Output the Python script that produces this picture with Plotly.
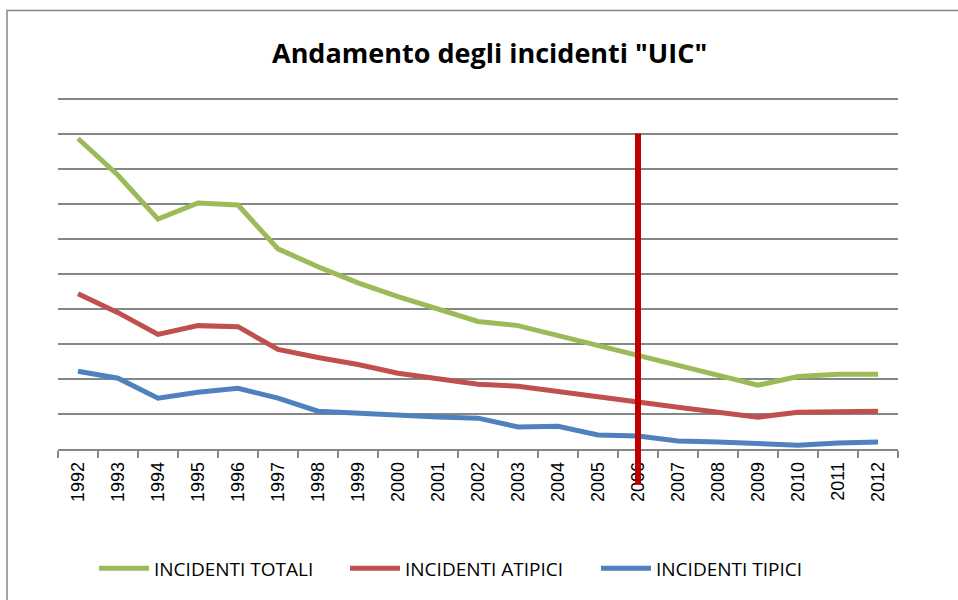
import plotly.graph_objects as go

years = [str(y) for y in range(1992, 2013)]
totali = [8.86, 7.81, 6.56, 7.02, 6.96, 5.71, 5.20, 4.74, 4.35, 4.00, 3.64, 3.52,
          3.24, 2.95, 2.67, 2.39, 2.10, 1.82, 2.07, 2.13, 2.13]
atipici = [4.43, 3.89, 3.27, 3.52, 3.49, 2.84, 2.61, 2.41, 2.16, 1.99, 1.85, 1.79,
           1.65, 1.48, 1.34, 1.19, 1.05, 0.91, 1.05, 1.08, 1.08]
tipici = [2.22, 2.02, 1.45, 1.62, 1.73, 1.45, 1.08, 1.02, 0.97, 0.91, 0.88, 0.63,
          0.65, 0.40, 0.37, 0.23, 0.20, 0.14, 0.11, 0.17, 0.20]
marker_year = "2006"
marker_range = [9.0, -1.02]
y_max = 10.3

fig = go.Figure()
series = [("INCIDENTI TOTALI", totali, "#9BBB59"),
          ("INCIDENTI ATIPICI", atipici, "#C0504D"),
          ("INCIDENTI TIPICI", tipici, "#4F81BD")]
for name, vals, col in series:
    fig.add_trace(go.Scatter(x=years, y=vals, name=name, mode="lines",
                             line=dict(color=col, width=5)))

L, R, T, B = 58, 60, 88, 149
W, H = 958, 600
pw, ph = W - L - R, H - T - B

def px(x):
    return (x - L) / pw

def py(y):
    return (H - B - y) / ph

marker_idx = years.index(marker_year)
unit = 1.0 / y_max

fig.update_layout(
    width=W, height=H,
    margin=dict(l=L, r=R, t=T, b=B),
    paper_bgcolor="white", plot_bgcolor="white",
    font=dict(family="Liberation Sans", color="black"),
    showlegend=True,
    legend=dict(orientation="h", x=px(94), y=py(571), xanchor="left", yanchor="middle",
                font=dict(family="Open Sans", size=19), entrywidth=186,
                itemwidth=50, tracegroupgap=0),
    xaxis=dict(type="category", showgrid=False, showline=True, linecolor="#868686",
               linewidth=1.5, ticks="outside", tickson="boundaries", ticklen=7,
               tickcolor="#868686", tickwidth=1.5, tickangle=-90, ticklabelstandoff=4,
               tickfont=dict(family="Liberation Sans", size=18), range=[-0.5, 20.5]),
    yaxis=dict(range=[0, y_max], showgrid=True, gridcolor="#868686", gridwidth=1.5,
               showticklabels=False, zeroline=False, tick0=0, dtick=1, showline=False, ticks=""),
    annotations=[dict(text="<b>Andamento degli incidenti \"UIC\"</b>", xref="paper", yref="paper",
                      x=px(490), y=py(52), xanchor="center", yanchor="middle",
                      showarrow=False, font=dict(family="Open Sans", size=27))],
    shapes=[dict(type="rect", xref="paper", yref="paper", x0=px(7), x1=px(962),
                 y0=py(612), y1=py(10), line=dict(color="#868686", width=1.5),
                 fillcolor="rgba(0,0,0,0)", layer="below"),
            dict(type="line", xref="x", yref="paper", x0=marker_idx, x1=marker_idx,
                 y0=marker_range[1] * unit, y1=marker_range[0] * unit,
                 line=dict(color="#C00000", width=6), layer="above")],
)

fig.write_html("out.html", config={"displayModeBar": False},
               post_script="document.body.style.margin='0';document.body.style.overflow='hidden';")
